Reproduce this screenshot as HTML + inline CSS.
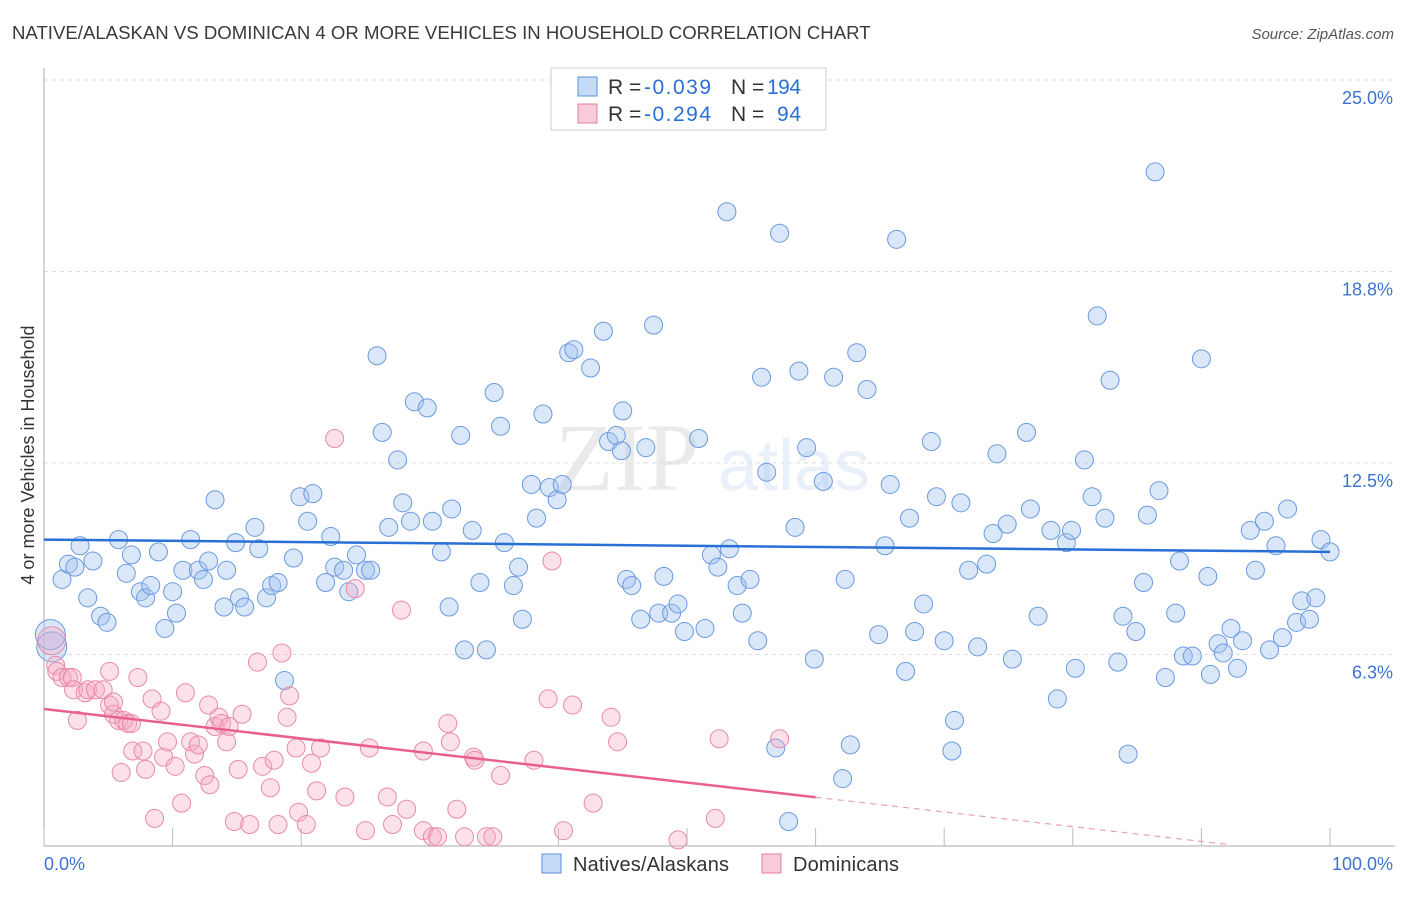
<!DOCTYPE html>
<html><head><meta charset="utf-8"><style>
body{margin:0;background:#fff;font-family:"Liberation Sans",sans-serif;}
</style></head><body>
<svg width="1406" height="892" xmlns="http://www.w3.org/2000/svg" id="chart" style="font-family:'Liberation Sans',sans-serif">
<text x="12" y="39" font-size="18.6" fill="#3a3a3a">NATIVE/ALASKAN VS DOMINICAN 4 OR MORE VEHICLES IN HOUSEHOLD CORRELATION CHART</text>
<text x="1394" y="39" font-size="15" fill="#555" text-anchor="end" font-style="italic">Source: ZipAtlas.com</text>
<g opacity="0.13">
<text x="555" y="490" font-size="96" font-family="Liberation Serif,serif" fill="#666">ZIP</text>
<text x="718" y="490" font-size="72" fill="#5b8fd8">atlas</text>
</g>
<g id="grid"></g>
<g id="axes"></g>
<g id="pts"></g>
<g id="trends"></g>
<text transform="translate(34,455) rotate(-90)" font-size="18" fill="#333" text-anchor="middle">4 or more Vehicles in Household</text>
<g font-size="21">
<rect x="551" y="68" width="275" height="62" fill="#fff" stroke="#ccc"/>
<rect x="578" y="77" width="19" height="19" fill="rgba(160,196,240,0.6)" stroke="#5b8fd8"/>
<text x="608" y="94" fill="#333">R =</text>
<text x="644" y="94" fill="#2a6fd6" textLength="67">-0.039</text>
<text x="731" y="94" fill="#333">N =</text>
<text x="767" y="94" fill="#2a6fd6" textLength="34">194</text>
<rect x="578" y="104" width="19" height="19" fill="rgba(245,170,195,0.6)" stroke="#e87aa0"/>
<text x="608" y="121" fill="#333">R =</text>
<text x="644" y="121" fill="#2a6fd6" textLength="67">-0.294</text>
<text x="731" y="121" fill="#333">N =</text>
<text x="777" y="121" fill="#2a6fd6" textLength="24">94</text>
</g>
<g>
<rect x="542" y="854" width="19" height="19" fill="rgba(160,196,240,0.6)" stroke="#5b8fd8"/>
<text x="573" y="871" font-size="20" fill="#333" textLength="156">Natives/Alaskans</text>
<rect x="762" y="854" width="19" height="19" fill="rgba(245,170,195,0.6)" stroke="#e87aa0"/>
<text x="793" y="871" font-size="20" fill="#333" textLength="106">Dominicans</text>
</g>
</svg>
<script>
const yTicks=[6.25,12.5,18.75,25];
const yTickLabels=["6.3%","12.5%","18.8%","25.0%"];
const xTicks=[0,10,20,30,40,50,60,70,80,90,100];
const blueX=[0.6,0.5,1.4,1.9,2.4,2.8,3.8,3.4,4.4,4.9,5.8,6.4,6.8,7.5,7.9,8.3,8.9,9.4,10.0,10.3,10.8,11.4,12.0,12.4,12.8,13.3,14.0,14.2,14.9,15.2,15.6,16.4,16.7,17.3,17.7,18.2,18.7,19.4,19.9,20.5,20.9,21.9,22.3,22.6,23.3,23.7,24.3,25.0,25.4,25.9,26.3,26.8,27.5,27.9,28.5,28.8,29.8,30.2,30.9,31.5,31.7,32.4,32.7,33.3,33.9,34.4,35.0,35.5,35.8,36.5,36.9,37.2,37.9,38.3,38.8,39.3,39.9,40.3,40.8,41.2,42.5,43.5,43.9,44.5,44.9,45.0,45.3,45.7,46.4,46.8,47.4,47.8,48.2,48.8,49.3,49.8,50.9,51.4,51.9,52.4,53.1,53.3,53.9,54.3,54.9,55.5,55.8,56.2,56.9,57.2,57.9,58.4,58.7,59.3,59.9,60.6,61.4,62.1,62.3,62.7,63.2,64.0,64.9,65.4,65.8,66.3,67.0,67.3,67.7,68.4,69.0,69.4,70.0,70.6,70.8,71.3,71.9,72.6,73.3,73.8,74.1,74.9,75.3,76.4,76.7,77.3,78.3,78.8,79.5,79.9,80.2,80.9,81.5,81.9,82.5,82.9,83.5,83.9,84.3,84.9,85.5,85.8,86.4,86.7,87.2,88.0,88.3,88.6,89.3,90.0,90.5,90.7,91.3,91.7,92.3,92.8,93.2,93.8,94.2,94.9,95.3,95.8,96.3,96.7,97.4,97.8,98.4,98.9,99.3,100];
const blueY=[6.5,6.9,8.7,9.2,9.1,9.8,9.3,8.1,7.5,7.3,10.0,8.9,9.5,8.3,8.1,8.5,9.6,7.1,8.3,7.6,9.0,10.0,9.0,8.7,9.3,11.3,7.8,9.0,9.9,8.1,7.8,10.4,9.7,8.1,8.5,8.6,5.4,9.4,11.4,10.6,11.5,8.6,10.1,9.1,9.0,8.3,9.5,9.0,9.0,16.0,13.5,10.4,12.6,11.2,10.6,14.5,14.3,10.6,9.6,7.8,11.0,13.4,6.4,10.3,8.6,6.4,14.8,13.7,9.9,8.5,9.1,7.4,11.8,10.7,14.1,11.7,11.3,11.8,16.1,16.2,15.6,16.8,13.2,13.4,12.9,14.2,8.7,8.5,7.4,13.0,17.0,7.6,8.8,7.6,7.9,7.0,13.3,7.1,9.5,9.1,20.7,9.7,8.5,7.6,8.7,6.7,15.3,12.2,3.2,20.0,0.8,10.4,15.5,13.0,6.1,11.9,15.3,2.2,8.7,3.3,16.1,14.9,6.9,9.8,11.8,19.8,5.7,10.7,7.0,7.9,13.2,11.4,6.7,3.1,4.1,11.2,9.0,6.5,9.2,10.2,12.8,10.5,6.1,13.5,11.0,7.5,10.3,4.8,9.9,10.3,5.8,12.6,11.4,17.3,10.7,15.2,6.0,7.5,3.0,7.0,8.6,10.8,22.0,11.6,5.5,7.6,9.3,6.2,6.2,15.9,8.8,5.6,6.6,6.3,7.1,5.8,6.7,10.3,9.0,10.6,6.4,9.8,6.8,11.0,7.3,8.0,7.4,8.1,10.0,9.6];
const pinkX=[0.6,0.9,1.0,1.4,1.9,2.2,2.3,2.6,3.2,3.4,4.0,4.6,5.1,5.1,5.4,5.4,5.8,6.2,6.5,6.8,6.0,6.9,7.3,7.7,7.9,8.4,8.6,9.1,9.3,9.6,10.2,10.7,11.0,11.4,11.7,12.0,12.5,12.8,12.9,13.3,13.6,13.8,14.2,14.4,14.8,15.1,15.4,16.0,16.6,17.0,17.6,17.9,18.2,18.5,18.9,19.1,19.6,19.8,20.4,20.8,21.2,21.5,22.6,23.4,24.2,25.0,25.3,26.7,27.1,27.8,28.2,29.5,29.5,30.2,30.6,31.4,31.6,32.1,32.7,33.4,33.5,34.4,34.9,35.5,38.1,39.2,39.5,40.4,41.1,42.7,44.1,44.6,49.3,52.2,52.5,57.2];
const pinkY=[6.7,5.9,5.7,5.5,5.5,5.5,5.1,4.1,5.0,5.1,5.1,5.1,5.7,4.6,4.3,4.7,4.1,4.1,4.0,4.0,2.4,3.1,5.5,3.1,2.5,4.8,0.9,4.4,2.9,3.4,2.6,1.4,5.0,3.4,3.0,3.3,2.3,4.6,2.0,3.9,4.2,4.0,3.4,3.9,0.8,2.5,4.3,0.7,6.0,2.6,1.9,2.8,0.7,6.3,4.2,4.9,3.2,1.1,0.7,2.7,1.8,3.2,13.3,1.6,8.4,0.5,3.2,1.6,0.7,7.7,1.2,0.5,3.1,0.3,0.3,4.0,3.4,1.2,0.3,2.9,2.8,0.3,0.3,2.3,2.8,4.8,9.3,0.5,4.6,1.4,4.2,3.4,0.2,0.9,3.5,3.5];
const blueTrend=[10.0,9.6];
const pinkTrend=[4.47,-0.048];
const X0=44,X1=1330,YB=846,PXPCT=30.64;
const sx=v=>X0+(X1-X0)*v/100;
const sy=v=>YB-v*PXPCT;
const NS="http://www.w3.org/2000/svg";
function mk(tag,attrs,parent){const e=document.createElementNS(NS,tag);for(const k in attrs)e.setAttribute(k,attrs[k]);parent.appendChild(e);return e;}
const grid=document.getElementById('grid'),axes=document.getElementById('axes'),pts=document.getElementById('pts'),tr=document.getElementById('trends');
yTicks.forEach((t,i)=>{
 const l=mk('line',{x1:X0,x2:1395,y1:sy(t),y2:sy(t),stroke:'#ddd','stroke-dasharray':'4,4'},grid);
 
 
 const tx=mk('text',{x:1393,y:sy(t)+24,'font-size':18,fill:'#3d72d0','text-anchor':'end'},grid);
 tx.textContent=yTickLabels[i];
 
 
});
const ya=mk('line',{x1:X0,x2:X0,y1:68,y2:846,stroke:'#aaa'},axes);


const xa=mk('line',{x1:X0,x2:1395,y1:846,y2:846,stroke:'#aaa'},axes);


xTicks.forEach(t=>{
 const l=mk('line',{x1:sx(t),x2:sx(t),y1:828,y2:846,stroke:'#bbb'},axes);
 
 
});
const xl0=mk('text',{x:44,y:870,'font-size':18,fill:'#3d72d0'},axes);xl0.textContent='0.0%';


const xl1=mk('text',{x:1393,y:870,'font-size':18,fill:'#3d72d0','text-anchor':'end'},axes);xl1.textContent='100.0%';


blueX.forEach((x,i)=>{
 const c=mk('circle',{cx:sx(x),cy:sy(blueY[i]),r:(i<2?15:9),fill:'rgba(160,196,240,0.4)',stroke:'#6a9ae0','stroke-width':1},pts);
 
 
});
pinkX.forEach((x,i)=>{
 const c=mk('circle',{cx:sx(x),cy:sy(pinkY[i]),r:(i<1?14:9),fill:'rgba(245,170,195,0.35)',stroke:'#e88aaa','stroke-width':1},pts);
 
 
});
const bl=mk('line',{x1:sx(0),y1:sy(blueTrend[0]),x2:sx(100),y2:sy(blueTrend[1]),stroke:'#2a6fd6','stroke-width':2.5},tr);


const pf=x=>pinkTrend[0]+pinkTrend[1]*x;
const pl=mk('line',{x1:sx(0),y1:sy(pf(0)),x2:sx(60),y2:sy(pf(60)),stroke:'#e8608f','stroke-width':2.5},tr);


const pd=mk('line',{x1:sx(60),y1:sy(pf(60)),x2:sx(92),y2:sy(pf(92)),stroke:'#e8a0b8','stroke-width':1.2,'stroke-dasharray':'6,5'},tr);


</script>
</body></html>
